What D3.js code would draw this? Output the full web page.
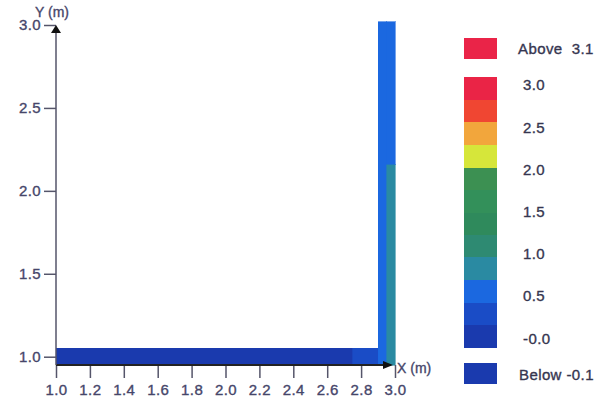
<!DOCTYPE html>
<html><head><meta charset="utf-8">
<script src="https://cdn.jsdelivr.net/npm/d3@7"></script>
<style>
html,body{margin:0;padding:0;background:#fff;}
text{font-family:"Liberation Sans",Arial,sans-serif;stroke:currentColor;stroke-width:0.35px;}
rect{shape-rendering:crispEdges;}
</style></head>
<body><svg id="c" width="605" height="411"></svg>
<script>
// ---- data ----
const xTicks = [1.0,1.2,1.4,1.6,1.8,2.0,2.2,2.4,2.6,2.8,3.0];
const yTicks = [1.0,1.5,2.0,2.5,3.0];
// structural elements (rectangular regions) and their contour value
const elemNames = ["beam","beamEnd","colInner","colOuterLow","colOuterHigh"];
const elemX0 = [1.0, 2.75, 2.9, 2.95, 2.95];
const elemX1 = [2.75, 2.9, 2.95, 3.0, 3.0];
const elemY0 = [0.95, 0.95, 0.95, 0.95, 2.16];
const elemY1 = [1.05, 1.05, 3.02, 2.16, 3.02];
const elemValue = [0.02, 0.3, 0.58, 0.82, 0.58];
// legend
const legendEdges = [-0.1,0.167,0.433,0.7,0.967,1.233,1.5,1.767,2.033,2.3,2.567,2.833,3.1];
const bandColors = ["#1a3aae","#1a4cc6","#1b68e0","#2a8aa2","#2e8a72","#2f8a5c","#33905a","#3c9052","#d6e63a","#f2a63c","#f04632","#ea2446"];
const belowColor = "#1a3aae";
const aboveColor = "#ea2448";
const legendTicks = [3.0,2.5,2.0,1.5,1.0,0.5,0.0];
const legendTickLabels = ["3.0","2.5","2.0","1.5","1.0","0.5","-0.0"];
const aboveLabel = "Above  3.1";
const belowLabel = "Below -0.1";

// ---- drawing ----
const svg = d3.select("#c");
const x = d3.scaleLinear().domain([1.0,3.0]).range([56,395]);
const y = d3.scaleLinear().domain([0.95,3.0]).range([365,25]);
const color = d3.scaleThreshold().domain(legendEdges).range([belowColor,...bandColors,aboveColor]);

const elems = elemNames.map((n,i)=>({n,x0:elemX0[i],x1:elemX1[i],y0:elemY0[i],y1:elemY1[i],v:elemValue[i]}));
svg.append("g").selectAll("rect").data(elems).join("rect")
  .attr("x",d=>x(d.x0)).attr("width",d=>x(d.x1)-x(d.x0))
  .attr("y",d=>y(d.y1)).attr("height",d=>y(d.y0)-y(d.y1))
  .attr("fill",d=>color(d.v)).attr("stroke",d=>color(d.v)).attr("stroke-width",0.6);

const axCol = "#55556a", txtCol = "#46466a";
const fs = 15, ls = "0.4px";
// x axis
const gx = svg.append("g").attr("transform",`translate(0,${y(0.95)})`)
  .call(d3.axisBottom(x).tickValues(xTicks).tickFormat(d3.format(".1f")).tickSize(13).tickPadding(6));
gx.select(".domain").remove();
gx.selectAll("line").attr("stroke",axCol).attr("stroke-width",1.5);
gx.selectAll("text").attr("fill",txtCol).style("color",txtCol).attr("font-size",fs).style("letter-spacing",ls);
svg.append("line").attr("x1",x(1.0)).attr("x2",x(3.0)-4).attr("y1",y(0.95)).attr("y2",y(0.95))
  .attr("stroke","#222").attr("stroke-width",2);
svg.append("path").attr("d",`M${x(3.0)-2},${y(0.95)} l-10,-4 l0,8 z`).attr("fill","#111");
svg.append("text").attr("x",x(3.0)+2).attr("y",y(0.95)+8).attr("fill",txtCol).style("color",txtCol).attr("font-size",14).text("X (m)");

// y axis
const gy = svg.append("g").attr("transform",`translate(${x(1.0)},0)`)
  .call(d3.axisLeft(y).tickValues(yTicks).tickFormat(d3.format(".1f")).tickSize(12).tickPadding(3));
gy.select(".domain").remove();
gy.selectAll("line").attr("stroke",axCol).attr("stroke-width",1.5);
gy.selectAll("text").attr("fill",txtCol).style("color",txtCol).attr("font-size",fs).style("letter-spacing",ls);
svg.append("line").attr("x1",x(1.0)).attr("x2",x(1.0)).attr("y1",y(0.95)).attr("y2",y(3.0)+4)
  .attr("stroke",axCol).attr("stroke-width",1.5);
svg.append("path").attr("d",`M${x(1.0)},${y(3.0)} l-5,8 l10,0 z`).attr("fill","#111");
svg.append("text").attr("x",35).attr("y",17).attr("fill",txtCol).style("color",txtCol).attr("font-size",14).text("Y (m)");

// legend
const ly = d3.scaleLinear().domain([-0.1,3.1]).range([347,77]);
const lg = svg.append("g");
lg.selectAll("rect.band").data(bandColors).join("rect").attr("class","band")
  .attr("x",464).attr("width",33)
  .attr("y",(c,i)=>ly(legendEdges[i+1])).attr("height",(c,i)=>ly(legendEdges[i])-ly(legendEdges[i+1])+0.5)
  .attr("fill",c=>c);
lg.append("rect").attr("x",464).attr("width",33).attr("y",38).attr("height",21).attr("fill",aboveColor);
lg.append("rect").attr("x",464).attr("width",33).attr("y",363).attr("height",21).attr("fill",belowColor);
const lc = "#363650";
lg.selectAll("text.tl").data(legendTicks).join("text").attr("class","tl")
  .attr("x",523).attr("y",d=>ly(d)+5).attr("fill",lc).style("color",lc).attr("font-size",fs).style("letter-spacing",ls)
  .text((d,i)=>legendTickLabels[i]);
lg.append("text").attr("x",518).attr("y",54).attr("fill",lc).style("color",lc).attr("font-size",fs).style("letter-spacing",ls)
  .style("white-space","pre").text(aboveLabel);
lg.append("text").attr("x",519).attr("y",380).attr("fill",lc).style("color",lc).attr("font-size",fs).style("letter-spacing",ls)
  .style("white-space","pre").text(belowLabel);
</script></body></html>
